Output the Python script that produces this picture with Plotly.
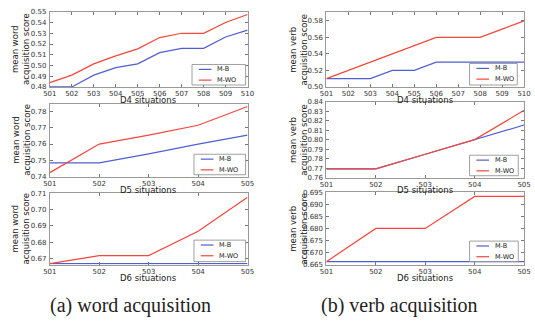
import plotly.graph_objects as go

# ---------------- data ----------------
sit10 = [501, 502, 503, 504, 505, 506, 507, 508, 509, 510]
sit5 = [501, 502, 503, 504, 505]
series_names = ["M-B", "M-WO"]

word_d4_mb = [0.480, 0.480, 0.491, 0.498, 0.5015, 0.512, 0.516, 0.516, 0.5265, 0.533]
word_d4_mwo = [0.484, 0.491, 0.5015, 0.509, 0.5155, 0.526, 0.530, 0.530, 0.540, 0.5475]

verb_d4_mb = [0.51, 0.51, 0.51, 0.52, 0.52, 0.53, 0.53, 0.53, 0.53, 0.53]
verb_d4_mwo = [0.51, 0.52, 0.53, 0.54, 0.55, 0.56, 0.56, 0.56, 0.57, 0.58]

word_d5_mb = [0.7485, 0.7485, 0.754, 0.760, 0.7655]
word_d5_mwo = [0.7425, 0.760, 0.7655, 0.7715, 0.783]

verb_d5_mb = [0.7692, 0.7692, 0.7846, 0.800, 0.8154]
verb_d5_mwo = [0.7692, 0.7692, 0.7846, 0.800, 0.8308]

word_d6_mb = [0.6667, 0.6667, 0.6667, 0.6667, 0.6667]
word_d6_mwo = [0.6667, 0.6717, 0.6717, 0.6867, 0.7075]

verb_d6_mb = [0.6662, 0.6662, 0.6662, 0.6662, 0.6662]
verb_d6_mwo = [0.6662, 0.680, 0.680, 0.6933, 0.6933]

x_titles = ["D4 situations", "D4 situations", "D5 situations", "D5 situations",
            "D6 situations", "D6 situations"]
y_titles = ["mean word<br>acquisition score", "mean verb<br>acquisition score"] * 3
captions = ["(a) word acquisition", "(b) verb acquisition"]

# ---------------- layout helpers ----------------
W, H = 535, 330
BLUE = "#4f5fd2"
RED = "#f4473b"

def px(x):
    return x / W

def py(y):
    return 1 - y / H

panels = [
    dict(x=sit10, mb=word_d4_mb, mwo=word_d4_mwo, box=(44, 247, 8, 85), yr=[0.48, 0.55], dt=0.01, fmt=".2f",
         leg=(190, 245, 62, 83), tgap=13.5),
    dict(x=sit10, mb=verb_d4_mb, mwo=verb_d4_mwo, box=(328, 531, 8, 85), yr=[0.50, 0.591], dt=0.02, fmt=".2f",
         leg=(475, 524, 61, 83), tgap=13.5),
    dict(x=sit5, mb=word_d5_mb, mwo=word_d5_mwo, box=(44, 247, 102, 177), yr=[0.74, 0.7848], dt=0.01, fmt=".2f",
         leg=(192, 245, 154, 175), tgap=14),
    dict(x=sit5, mb=verb_d5_mb, mwo=verb_d5_mwo, box=(328, 531, 100, 178), yr=[0.76, 0.84], dt=0.01, fmt=".2f",
         leg=(475, 525, 155, 176), tgap=13),
    dict(x=sit5, mb=word_d6_mb, mwo=word_d6_mwo, box=(44, 247, 194, 267), yr=[0.6662, 0.71], dt=0.01, fmt=".2f",
         leg=(192, 245, 242, 264), tgap=14),
    dict(x=sit5, mb=verb_d6_mb, mwo=verb_d6_mwo, box=(328, 531, 193, 267), yr=[0.665, 0.695], dt=0.005, fmt=".3f",
         leg=(475, 525, 243, 264), tgap=14),
]

fig = go.Figure()
layout = dict(
    width=W, height=H,
    margin=dict(l=0, r=0, t=0, b=0),
    paper_bgcolor="white", plot_bgcolor="white",
    showlegend=False,
    font=dict(family="DejaVu Sans", color="#333"),
)
shapes = []
annotations = []

tickfont = dict(family="DejaVu Sans", size=7, color="#333")

for i, p in enumerate(panels, start=1):
    sfx = "" if i == 1 else str(i)
    xa, ya = "x" + sfx, "y" + sfx
    fig.add_trace(go.Scatter(x=p["x"], y=p["mb"], mode="lines", name=series_names[0],
                             line=dict(color=BLUE, width=1.2), xaxis=xa, yaxis=ya))
    fig.add_trace(go.Scatter(x=p["x"], y=p["mwo"], mode="lines", name=series_names[1],
                             line=dict(color=RED, width=1.2), xaxis=xa, yaxis=ya))
    x0, x1, y0, y1 = p["box"]
    common = dict(showline=True, linecolor="#999", linewidth=1, mirror="allticks",
                  ticks="inside", ticklen=3, tickcolor="#777", tickwidth=0.8,
                  showgrid=False, zeroline=False, tickfont=tickfont)
    layout["xaxis" + sfx] = dict(domain=[px(x0), px(x1)], anchor=ya,
                                 range=[p["x"][0], p["x"][-1]], tickmode="array",
                                 tickvals=p["x"], ticktext=[str(v) for v in p["x"]],
                                 ticklabelstandoff=0, **common)
    layout["yaxis" + sfx] = dict(domain=[py(y1), py(y0)], anchor=xa,
                                 range=p["yr"], dtick=p["dt"], tick0=0, tickformat=p["fmt"],
                                 ticklabelstandoff=1, **common)
    # x-axis title
    annotations.append(dict(text=x_titles[i - 1], xref="paper", yref="paper",
                            x=px((x0 + x1) / 2), y=py(y1 + p["tgap"]), xanchor="center", yanchor="middle",
                            showarrow=False, font=dict(family="DejaVu Sans", size=8.5, color="#222")))
    # y-axis title
    tx = 14 if x0 < 200 else 299
    annotations.append(dict(text=y_titles[i - 1], xref="paper", yref="paper",
                            x=px(tx), y=py((y0 + y1) / 2), xanchor="center", yanchor="middle",
                            textangle=-90, showarrow=False,
                            font=dict(family="DejaVu Sans", size=8.5, color="#222")))
    # legend box (drawn)
    lx0, lx1, ly0, ly1 = p["leg"]
    shapes.append(dict(type="rect", xref="paper", yref="paper",
                       x0=px(lx0), x1=px(lx1), y0=py(ly1), y1=py(ly0),
                       line=dict(color="#888", width=0.8), fillcolor="white", layer="above"))
    for k, (nm, col) in enumerate(zip(series_names, [BLUE, RED])):
        yy = ly0 + 5 + k * 11
        shapes.append(dict(type="line", xref="paper", yref="paper",
                           x0=px(lx0 + 7), x1=px(lx0 + 20), y0=py(yy), y1=py(yy),
                           line=dict(color=col, width=1.2), layer="above"))
        annotations.append(dict(text=nm, xref="paper", yref="paper",
                                x=px(lx0 + 24), y=py(yy), xanchor="left", yanchor="middle",
                                showarrow=False,
                                font=dict(family="DejaVu Sans", size=6.5, color="#222")))

# captions
for cx, cap in zip([127, 403], captions):
    annotations.append(dict(text=cap, xref="paper", yref="paper", x=px(cx), y=py(309),
                            xanchor="center", yanchor="middle", showarrow=False,
                            font=dict(family="Liberation Serif", size=20, color="#222")))

layout["shapes"] = shapes
layout["annotations"] = annotations
fig.update_layout(**layout)
fig.write_html("out.html", config={"displayModeBar": False},
               post_script="document.body.style.margin='0px';document.body.style.overflow='hidden';")
